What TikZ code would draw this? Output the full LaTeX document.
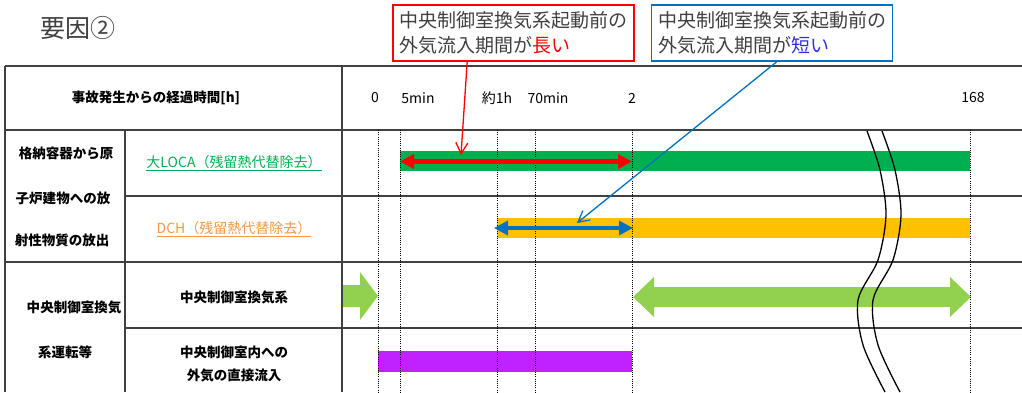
\documentclass[tikz,border=0pt]{standalone}
\usepackage{fontspec}
\setmainfont{Noto Sans CJK JP}
\usetikzlibrary{arrows.meta}
\definecolor{gridgray}{HTML}{404040}
\definecolor{txtgray}{HTML}{404040}
\definecolor{barGreen}{HTML}{00B050}
\definecolor{barOrange}{HTML}{FFC000}
\definecolor{arrGreen}{HTML}{92D050}
\definecolor{barPurple}{HTML}{C022FF}
\definecolor{arrBlue}{HTML}{0070C0}
\definecolor{txtBlue}{HTML}{3030E0}
\definecolor{lblOrange}{HTML}{F79646}
\tikzset{
  gridline/.style={draw=gridgray, line width=1.3pt},
  timeline/.style={draw=black, line width=0.9pt, dash pattern=on 1pt off 1.2pt},
  cell/.style={font=\fontsize{13.5}{16}\selectfont\bfseries, text=black, inner sep=0pt},
  tick/.style={font=\fontsize{14}{16}\selectfont, text=black, inner sep=0pt},
  callout/.style={line width=1.6pt, font=\fontsize{19}{25}\selectfont, text=txtgray,
    align=left, text width=228pt, inner xsep=6.5pt, minimum height=56pt, inner ysep=3pt},
  span/.style={line width=4.5pt, {Triangle[length=14pt,width=14pt]}-{Triangle[length=14pt,width=14pt]}},
  pointer/.style={line width=1.3pt, -{Straight Barb[length=11pt,width=12pt]}},
  breakline/.style={draw=black, line width=1.3pt}
}
\begin{document}
\begin{tikzpicture}[x=1pt,y=-1pt]
\useasboundingbox (0,0) rectangle (1022,392);

% title
\node[font=\fontsize{25}{28}\selectfont, text=txtgray, inner sep=0pt] (title) at (78,28) {要因②};

% callout boxes
\node[callout, draw=red] (rbox) at (513.5,33) {中央制御室換気系起動前の\\外気流入期間が\textcolor{red}{長い}};
\node[callout, draw=arrBlue] (bbox) at (772,33) {中央制御室換気系起動前の\\外気流入期間が\textcolor{txtBlue}{短い}};

% bars
\fill[barGreen] (400,151) rectangle (970,171);
\fill[barOrange] (497,218) rectangle (970,238);
\fill[barPurple] (378,351) rectangle (632,372);
\fill[arrGreen] (341,285) -- (360,285) -- (360,272) -- (378,296) -- (360,320) -- (360,307) -- (341,307) -- cycle;
\fill[arrGreen] (633,297) -- (654,277) -- (654,287) -- (950,287) -- (950,277) -- (971,297)
  -- (950,317) -- (950,307) -- (654,307) -- (654,317) -- cycle;

% table grid
\draw[gridline] (5,66) -- (1022,66);
\draw[gridline] (5,130) -- (1022,130);
\draw[gridline] (125,196) -- (1022,196);
\draw[gridline] (5,262) -- (1022,262);
\draw[gridline] (125,328) -- (1022,328);
\draw[gridline] (5,66) -- (5,392);
\draw[gridline] (125,130) -- (125,392);
\draw[gridline] (342,66) -- (342,392);

% time markers
\foreach \x in {378,400,497,535,632,970} \draw[timeline] (\x,130) -- (\x,392);

% header texts
\node[cell] (hdr) at (156,98) {事故発生からの経過時間[h]};
\node[tick] (t0) at (375,98) {0};
\node[tick] (t5) at (418,98) {5min};
\node[tick] (t1h) at (497,98) {約1h};
\node[tick] (t70) at (548,98) {70min};
\node[tick] (t2) at (632,98) {2};
\node[tick] (t168) at (973,98) {168};

% left column
\node[cell] (l1) at (66,153) {格納容器から原};
\node[cell] (l2) at (63,198) {子炉建物への放};
\node[cell] (l3) at (62,240) {射性物質の放出};
\node[cell] (l4) at (74,307) {中央制御室換気};
\node[cell] (l5) at (65,352) {系運転等};

% middle column
\node[cell, font=\fontsize{14}{16}\selectfont, text=barGreen] (loca) at (234,163) {\underline{大LOCA（残留熱代替除去）}};
\node[cell, font=\fontsize{14}{16}\selectfont, text=lblOrange] (dch) at (234,229) {\underline{DCH（残留熱代替除去）}};
\node[cell] (vent) at (234,297) {中央制御室換気系};
\node[cell] (in1) at (234,352) {中央制御室内への};
\node[cell] (in2) at (234,375) {外気の直接流入};

% spans
\coordinate (rL) at (400,161.5);
\coordinate (rR) at (632,161.5);
\coordinate (bL) at (494,228);
\coordinate (bR) at (633,228);
\draw[span, draw=red, fill=red] (rL) -- (rR);
\draw[span, draw=arrBlue, fill=arrBlue, line width=4pt] (bL) -- (bR);

% pointers
\coordinate (rtip) at (461,155);
\coordinate (btip) at (577,223);
\draw[pointer, draw=red] ([xshift=75pt]rbox.south west) -- (rtip);
\draw[pointer, draw=arrBlue] ([xshift=126pt]bbox.south west) -- (btip);

% break lines
\draw[breakline] plot[smooth] coordinates {(867,131) (880,170) (886,215) (878,260) (858,300) (863,345) (885,392)};
\draw[breakline] plot[smooth] coordinates {(882,131) (895,170) (901,215) (893,260) (873,300) (878,345) (900,392)};
\end{tikzpicture}
\end{document}
